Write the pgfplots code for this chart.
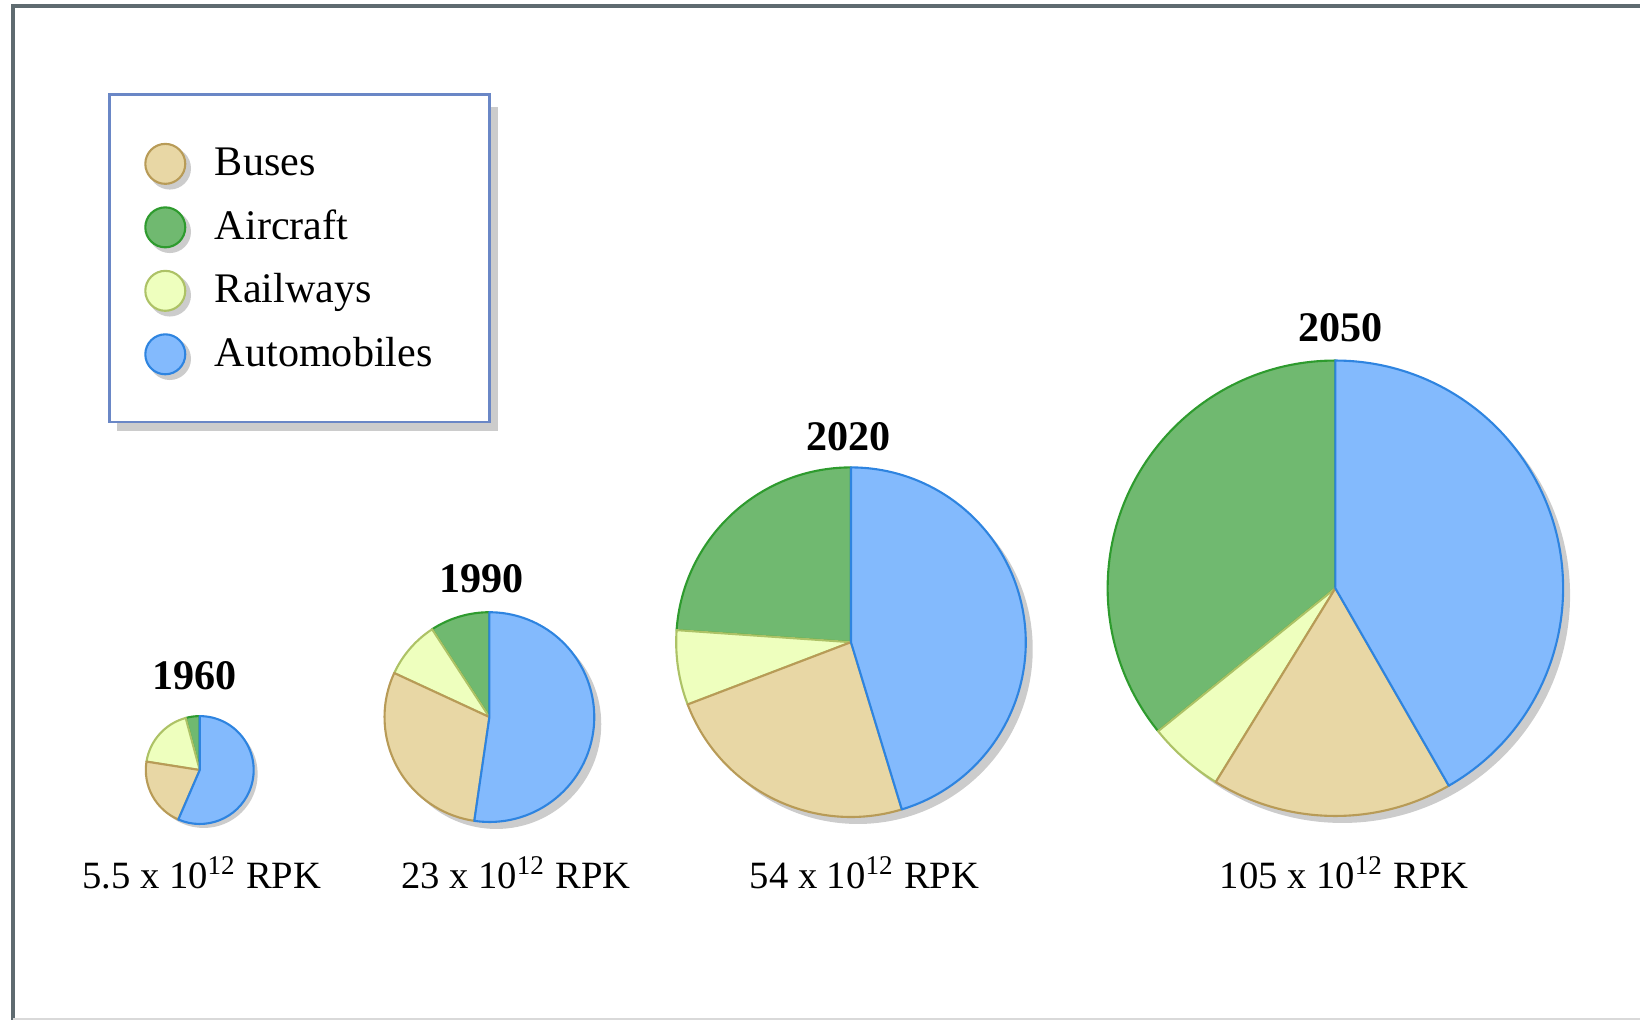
\documentclass[border=0pt]{standalone}
\usepackage{pgfplots}
\pgfplotsset{compat=1.18}
\usepackage{pgfplotstable}
\usepackage{fontspec}
\setmainfont{Liberation Serif}

\definecolor{busF}{HTML}{E8D7A5}
\definecolor{busL}{HTML}{B89B57}
\definecolor{airF}{HTML}{70B970}
\definecolor{airL}{HTML}{2E9B2E}
\definecolor{railF}{HTML}{EEFFBE}
\definecolor{railL}{HTML}{ADC266}
\definecolor{autoF}{HTML}{83BAFD}
\definecolor{autoL}{HTML}{2E84E0}
\definecolor{shadowC}{HTML}{CCCCCC}
\definecolor{frameC}{HTML}{5F6B70}
\definecolor{legL}{HTML}{6A87C6}

% centre (cx,cy) and radius r in picture units, shadow offset sh,
% shares in percent, anticlockwise from 12 o'clock
\pgfplotstableread{
year cx   cy  r   sh aircraft railways buses autos
1960 200  250 54  4  4.2      18.3     21.0  56.5
1990 490  303 105 7  9.2      8.9      29.6  52.3
2020 852  378 175 7  23.9     6.9      23.9  45.3
2050 1337 432 228 7  35.8     5.4      17.1  41.7
}\pietable

\newcommand\pieWedge[6]{%
  \edef\pietmp{\noexpand\draw[#6] (axis cs:#1,#2) -- ++(#4:#3mm)
     arc[start angle=#4, end angle=#5, radius=#3mm] -- cycle;}%
  \pietmp}

\begin{document}
\begin{tikzpicture}
\begin{axis}[
  width=164.2mm, height=102.1mm, scale only axis,
  xmin=0, xmax=1642, ymin=0, ymax=1021,
  hide axis, clip=false,
  legend cell align=left,
  legend style={
    at={(0.0659,0.9085)}, anchor=north west,
    draw=legL, line width=0.7pt, fill=white,
    inner xsep=3.5mm, inner ysep=4.22mm,
    row sep=1.06mm, column sep=2.4mm,
    font=\fontsize{12}{14}\selectfont,
    nodes={inner sep=0pt, text height=9pt, text depth=2.2pt, text width=24.0mm, align=left},
    cells={anchor=west},
  },
]
\path (axis cs:0,0) rectangle (axis cs:1642,1021);

% frame
\draw[frameC, line width=0.4mm] (axis cs:12.8,0) -- (axis cs:12.8,1015) -- (axis cs:1642,1015);
\draw[black!15, line width=0.2mm] (axis cs:12.8,1) -- (axis cs:1642,1);

% legend shadow
\fill[shadowC] (axis cs:117.5,589) rectangle (axis cs:498.5,914);

\addlegendimage{legend image code/.code={
  \path (0,2.6mm);
  \fill[shadowC] (0.45mm,-0.45mm) circle[radius=2mm];
  \draw[fill=busF,draw=busL,line width=0.6pt] (0,0) circle[radius=2mm];}}
\addlegendentry{Buses}
\addlegendimage{legend image code/.code={
  \path (0,2.6mm);
  \fill[shadowC] (0.45mm,-0.45mm) circle[radius=2mm];
  \draw[fill=airF,draw=airL,line width=0.6pt] (0,0) circle[radius=2mm];}}
\addlegendentry{Aircraft}
\addlegendimage{legend image code/.code={
  \path (0,2.6mm);
  \fill[shadowC] (0.45mm,-0.45mm) circle[radius=2mm];
  \draw[fill=railF,draw=railL,line width=0.6pt] (0,0) circle[radius=2mm];}}
\addlegendentry{Railways}
\addlegendimage{legend image code/.code={
  \path (0,2.6mm);
  \fill[shadowC] (0.45mm,-0.45mm) circle[radius=2mm];
  \draw[fill=autoF,draw=autoL,line width=0.6pt] (0,0) circle[radius=2mm];}}
\addlegendentry{Automobiles}

\pgfplotsinvokeforeach{0,1,2,3}{%
  \pgfplotstablegetelem{#1}{cx}\of\pietable \let\pcx\pgfplotsretval
  \pgfplotstablegetelem{#1}{cy}\of\pietable \let\pcy\pgfplotsretval
  \pgfplotstablegetelem{#1}{r}\of\pietable \let\prad\pgfplotsretval
  \pgfplotstablegetelem{#1}{sh}\of\pietable \let\psh\pgfplotsretval
  \pgfplotstablegetelem{#1}{aircraft}\of\pietable \let\pair\pgfplotsretval
  \pgfplotstablegetelem{#1}{railways}\of\pietable \let\prail\pgfplotsretval
  \pgfplotstablegetelem{#1}{buses}\of\pietable \let\pbus\pgfplotsretval
  \pgfmathsetmacro\rmm{\prad/10}
  \pgfmathsetmacro\angA{90+3.6*\pair}
  \pgfmathsetmacro\angB{\angA+3.6*\prail}
  \pgfmathsetmacro\angC{\angB+3.6*\pbus}
  \pgfmathsetmacro\pieSX{\pcx+\psh}
  \pgfmathsetmacro\pieSY{\pcy-\psh}
  \edef\pietmp{\noexpand\fill[shadowC] (axis cs:\pieSX,\pieSY) circle[radius=\rmm mm];}\pietmp
  \pieWedge{\pcx}{\pcy}{\rmm}{90}{\angA}{fill=airF,draw=airL,line width=0.6pt,line join=round}
  \pieWedge{\pcx}{\pcy}{\rmm}{\angA}{\angB}{fill=railF,draw=railL,line width=0.6pt,line join=round}
  \pieWedge{\pcx}{\pcy}{\rmm}{\angB}{\angC}{fill=busF,draw=busL,line width=0.6pt,line join=round}
  \pieWedge{\pcx}{\pcy}{\rmm}{\angC}{450}{fill=autoF,draw=autoL,line width=0.6pt,line join=round}
}

% titles
\node[font=\fontsize{12}{14}\selectfont\bfseries, anchor=base] at (axis cs:194.5,330.3) {1960};
\node[font=\fontsize{12}{14}\selectfont\bfseries, anchor=base] at (axis cs:482.5,427.7) {1990};
\node[font=\fontsize{12}{14}\selectfont\bfseries, anchor=base] at (axis cs:849.5,570.3) {2020};
\node[font=\fontsize{12}{14}\selectfont\bfseries, anchor=base] at (axis cs:1342.5,679.3) {2050};

% totals
\node[font=\fontsize{11}{13}\selectfont, anchor=base] at (axis cs:202,131.3) {5.5 x 10\textsuperscript{12} RPK};
\node[font=\fontsize{11}{13}\selectfont, anchor=base] at (axis cs:516.4,131.3) {23 x 10\textsuperscript{12} RPK};
\node[font=\fontsize{11}{13}\selectfont, anchor=base] at (axis cs:865.5,131.3) {54 x 10\textsuperscript{12} RPK};
\node[font=\fontsize{11}{13}\selectfont, anchor=base] at (axis cs:1345.8,131.3) {105 x 10\textsuperscript{12} RPK};
\end{axis}
\end{tikzpicture}
\end{document}
